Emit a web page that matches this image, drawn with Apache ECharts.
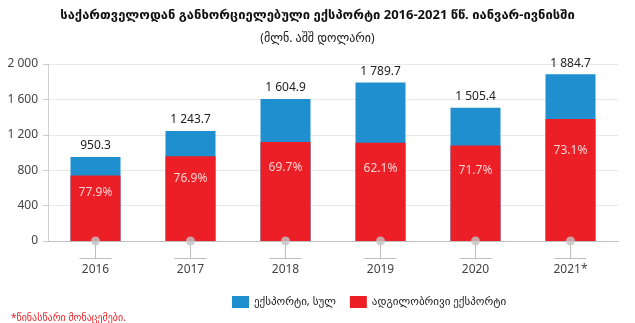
<!DOCTYPE html>
<html><head><meta charset="utf-8">
<script src="https://cdn.jsdelivr.net/npm/echarts@6/dist/echarts.min.js"></script>
<style>html,body{margin:0;padding:0;background:#fff}#c{width:635px;height:323px}</style>
</head><body><div id="c"></div>
<script>
const categories = ['2016', '2017', '2018', '2019', '2020', '2021*'];
const totalExport = [950.3, 1243.7, 1604.9, 1789.7, 1505.4, 1884.7];
const domesticExport = [740.3, 956.4, 1118.6, 1111.4, 1079.4, 1377.7];
const domesticShare = ['77.9%', '76.9%', '69.7%', '62.1%', '71.7%', '73.1%'];
const yTicks = [0, 400, 800, 1200, 1600, 2000];
const seriesNames = ['ექსპორტი, სულ', 'ადგილობრივი ექსპორტი'];

const FF = "'Noto Sans', 'DejaVu Sans', sans-serif";
const fmt = v => {
  const parts = v.toFixed(1).split('.');
  const int = parts[0].replace(/\B(?=(\d{3})+(?!\d))/g, ' ');
  return int + '.' + parts[1];
};
const chart = echarts.init(document.getElementById('c'));
chart.setOption({
  animation: false,
  textStyle: { fontFamily: FF },
  title: [
    { text: 'საქართველოდან განხორციელებული ექსპორტი 2016-2021 წწ. იანვარ-ივნისში', left: 'center', top: 4,
      textStyle: { fontSize: 13, fontWeight: 'bold', color: '#111', fontFamily: FF } },
    { text: '(მლნ. აშშ დოლარი)', left: 'center', top: 28,
      textStyle: { fontSize: 12, fontWeight: 'normal', color: '#222', fontFamily: FF } },
    { text: '*წინასწარი მონაცემები.', left: 6, top: 308,
      textStyle: { fontSize: 10, fontWeight: 'normal', color: '#e8262b', fontFamily: FF } }
  ],
  legend: {
    left: 227, top: 291, itemWidth: 17, itemHeight: 12, itemGap: 14,
    textStyle: { fontSize: 11, color: '#222', fontFamily: FF },
    data: [{ name: seriesNames[0], icon: 'rect' }, { name: seriesNames[1], icon: 'rect' }]
  },
  grid: { left: 48, right: 17, top: 64, bottom: 82 },
  xAxis: {
    type: 'category', data: categories,
    axisLine: { lineStyle: { color: '#c0c0c0', width: 1 } },
    axisTick: { show: true, alignWithLabel: true, length: 17, lineStyle: { color: '#bdbdbd', width: 1 } },
    axisLabel: {
      margin: 17, color: '#444',
      formatter: v => '{l|}\n{y|' + v + '}',
      rich: {
        l: { width: 32, height: 1, lineHeight: 1, backgroundColor: '#bdbdbd' },
        y: { fontSize: 12, lineHeight: 22, color: '#444', fontFamily: FF }
      }
    }
  },
  yAxis: {
    type: 'value', min: 0, max: 2000, interval: 400,
    axisLine: { show: true, lineStyle: { color: '#cfcfcf' } },
    axisTick: { show: true, length: 5, lineStyle: { color: '#cfcfcf' } },
    splitLine: { lineStyle: { color: '#e8e8e8' } },
    axisLabel: { color: '#444', fontSize: 12, margin: 10,
      formatter: v => yTicks.includes(v) ? String(v).replace(/\B(?=(\d{3})+(?!\d))/g, ' ') : '' }
  },
  series: [
    { name: seriesNames[0], type: 'bar', data: totalExport, barWidth: 50,
      itemStyle: { color: '#1f8fd0' },
      label: { show: true, position: 'top', distance: 5, color: '#222', fontSize: 12,
        formatter: p => fmt(p.value) } },
    { name: seriesNames[1], type: 'bar', data: domesticExport, barWidth: 50, barGap: '-100%',
      itemStyle: { color: '#ec1f27' },
      label: { show: true, position: ['50%', '26%'], align: 'center', verticalAlign: 'middle',
        color: '#fbd0d0', fontSize: 12, formatter: p => domesticShare[p.dataIndex] } },
    { type: 'scatter', data: categories.map(() => 0), symbol: 'circle', symbolSize: 9,
      itemStyle: { color: '#c4c4c4' }, clip: false, silent: true, z: 10, tooltip: { show: false } }
  ]
});
</script></body></html>
